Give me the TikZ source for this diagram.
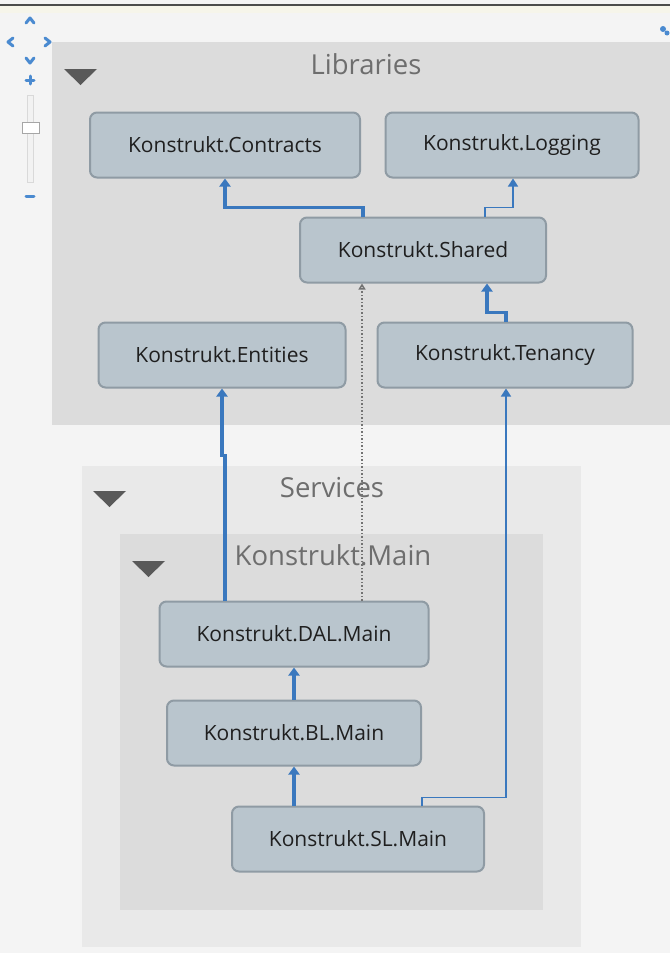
\documentclass[tikz,border=0pt]{standalone}
\usepackage{fontspec}
\setmainfont{Open Sans}
\usetikzlibrary{arrows.meta,calc}
\definecolor{canvas}{HTML}{F4F4F4}
\definecolor{topstrip}{HTML}{F6F5EA}
\definecolor{groupdark}{HTML}{DCDCDC}
\definecolor{grouplight}{HTML}{E9E9E9}
\definecolor{boxfill}{HTML}{B9C5CD}
\definecolor{boxline}{HTML}{8F9BA4}
\definecolor{linkblue}{HTML}{3A78BE}
\definecolor{titlegray}{HTML}{6E6E6E}
\definecolor{iconblue}{HTML}{4A8AD0}
\tikzset{
  module/.style={draw=boxline, line width=2pt, fill=boxfill, rounded corners=7pt,
    minimum height=65pt, inner sep=0pt, text=black!88,
    font=\fontsize{21}{25}\selectfont},
  grouptitle/.style={text=titlegray, font=\fontsize{27.5}{32}\selectfont, inner sep=0pt},
  collapse/.style={fill=black!65, draw=none},
  strong/.style={draw=linkblue, line width=3.4pt, -{Triangle[length=8pt,width=11pt]}},
  weak/.style={draw=linkblue, line width=1.6pt, -{Triangle[length=8pt,width=10pt]}},
  indirect/.style={draw=black!55, line width=1.5pt, dotted, -{Triangle[open,length=6pt,width=7pt]}},
}
\begin{document}
\begin{tikzpicture}[x=1pt,y=-1pt]
  % canvas
  \fill[canvas] (0,0) rectangle (670,953);
  \useasboundingbox (0,0) rectangle (670,953);
  \fill[topstrip] (0,6) rectangle (670,13);
  \draw[black!70, line width=1.6pt] (0,5) -- (670,5);

  % group backgrounds
  \fill[groupdark] (52,42) rectangle (670,425);
  \fill[grouplight] (82,466) rectangle (581,947);
  \fill[groupdark] (120,534) rectangle (543,910);

  % group titles and collapse markers
  \node[grouptitle] (tlib) at (366,64) {Libraries};
  \fill[collapse] (64,69) -- (97,69) -- (80.5,85) -- cycle;
  \node[grouptitle] (tsvc) at (332,488) {Services};
  \fill[collapse] (93,491) -- (126,491) -- (109.5,507) -- cycle;
  \node[grouptitle] (tmain) at (333,555) {Konstrukt.Main};
  \fill[collapse] (132,561) -- (165,561) -- (148.5,577) -- cycle;

  % modules
  \node[module, minimum width=270pt] (contracts) at (225,145) {Konstrukt.Contracts};
  \node[module, minimum width=253pt] (logging) at (512,145) {Konstrukt.Logging};
  \node[module, minimum width=246pt] (shared) at (423,250) {Konstrukt.Shared};
  \node[module, minimum width=247pt] (entities) at (222,355) {Konstrukt.Entities};
  \node[module, minimum width=255pt] (tenancy) at (505,355) {Konstrukt.Tenancy};
  \node[module, minimum width=269pt] (dal) at (294,634) {Konstrukt.DAL.Main};
  \node[module, minimum width=254pt] (bl) at (294,733) {Konstrukt.BL.Main};
  \node[module, minimum width=252pt] (sl) at (358,839) {Konstrukt.SL.Main};

  % dependencies
  \draw[strong] ([xshift=-60pt]shared.north) -- ++(0,-9) -| (contracts.south);
  \draw[weak] ([xshift=62pt]shared.north) -- ++(0,-9) -| ([xshift=1pt]logging.south);
  \draw[strong] ([xshift=1pt]tenancy.north) -- ++(0,-9) -| ([xshift=64pt]shared.south);
  \draw[strong] ([xshift=-69pt]dal.north) -- ++(0,-145) -| (entities.south);
  \draw[indirect] ([xshift=68pt]dal.north) -- ([xshift=-61pt]shared.south);
  \draw[strong] (bl.north) -- (dal.south);
  \draw[strong] (sl.north -| bl.south) -- (bl.south);
  \draw[weak] ([xshift=64pt]sl.north) -- ++(0,-8) -| ([xshift=1pt]tenancy.south);

  % navigation control
  \begin{scope}[iconblue, line width=3pt, line cap=round, line join=round]
    \draw (26,23) -- (30,18) -- (34,23);
    \draw (13,38) -- (8,42) -- (13,46);
    \draw (45,38) -- (50,42) -- (45,46);
    \draw (26,58) -- (30,63) -- (34,58);
    \draw (26,80) -- (34,80) (30,76) -- (30,84);
    \draw[line width=3pt] (26,196) -- (34,196);
  \end{scope}
  \draw[white!85!black, fill=white!95!black] (27,95) rectangle (33,182);
  \draw[black!35, fill=white] (22,122) rectangle (39,133);
  \fill[iconblue] (663,29) circle (3pt) (667,33) circle (2.5pt);
\end{tikzpicture}
\end{document}
